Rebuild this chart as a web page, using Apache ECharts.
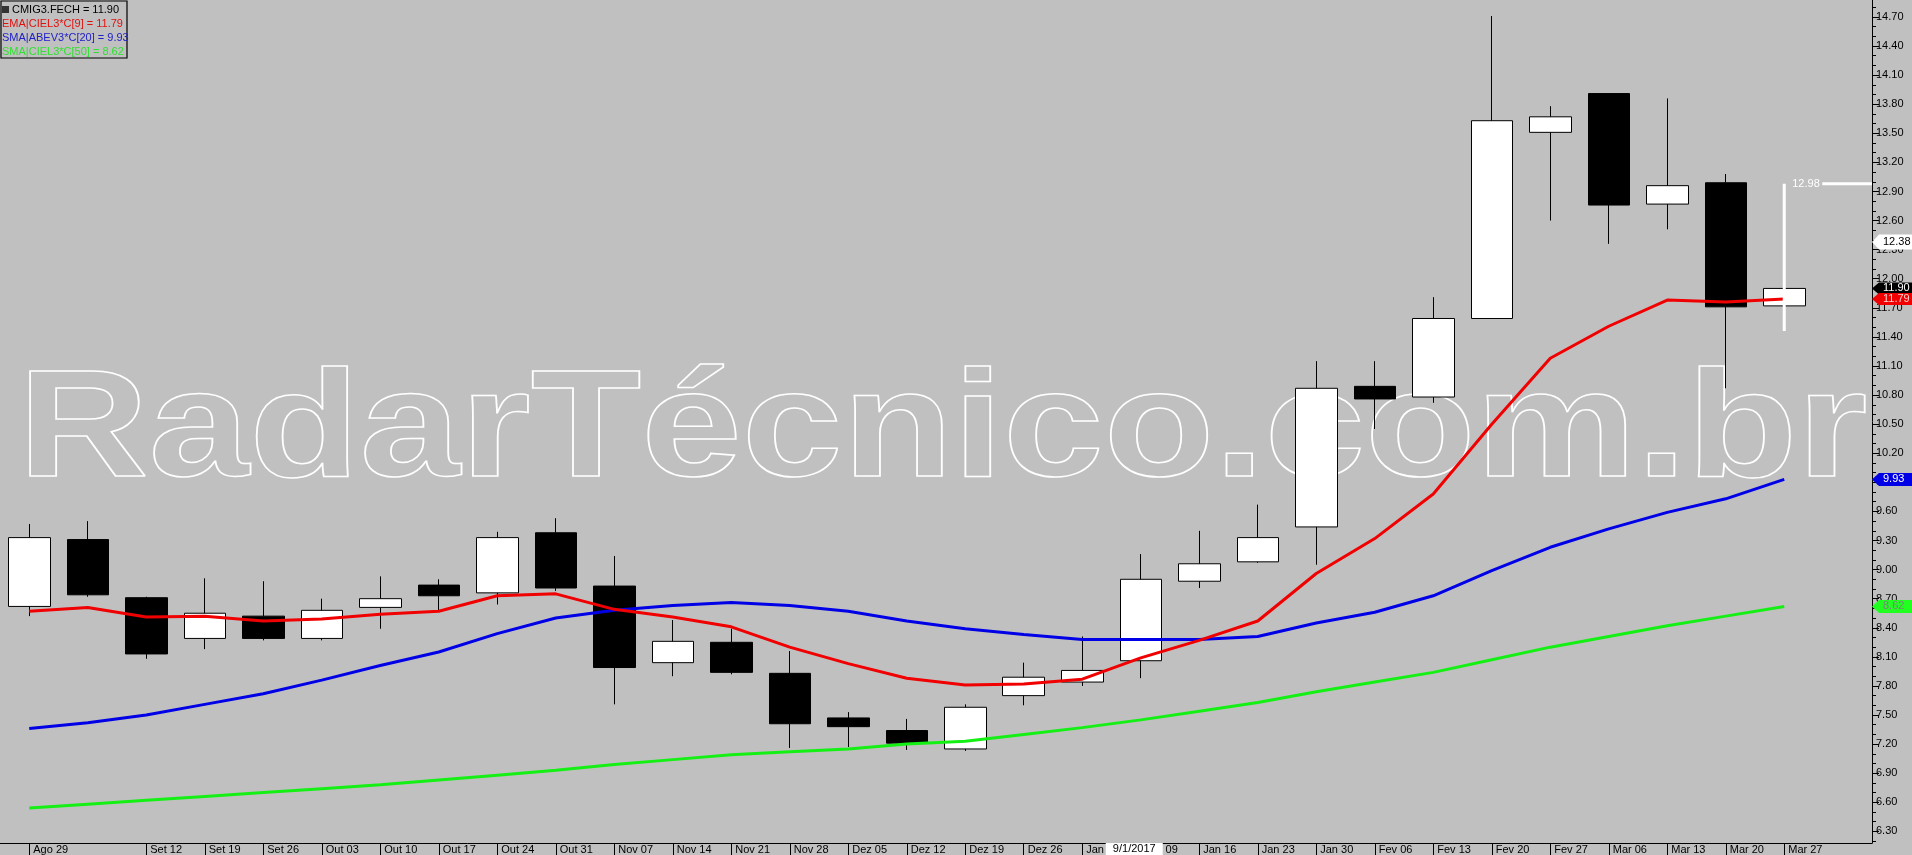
<!DOCTYPE html>
<html>
<head>
<meta charset="utf-8">
<script src="https://cdn.jsdelivr.net/npm/echarts@6/dist/echarts.min.js"></script>
<style>
html,body{margin:0;padding:0;background:#c0c0c0;}
#chart{width:1912px;height:855px;}
</style>
</head>
<body>
<div id="chart"></div>
<script>
// ---------- DATA ----------
const categories = ['Ago 29','Set 05','Set 12','Set 19','Set 26','Out 03','Out 10','Out 17','Out 24','Out 31',
  'Nov 07','Nov 14','Nov 21','Nov 28','Dez 05','Dez 12','Dez 19','Dez 26','Jan 02','Jan 09',
  'Jan 16','Jan 23','Jan 30','Fev 06','Fev 13','Fev 20','Fev 27','Mar 06','Mar 13','Mar 20','Mar 27',''];
const hiddenLabels = ['Set 05',''];

const openV  = [8.62,9.31,8.71,8.29,8.52,8.29,8.61,8.84,8.76,9.38,8.83,8.04,8.25,7.93,7.47,7.34,7.15,7.70,7.84,8.06,8.88,9.08,9.44,10.89,10.78,11.59,13.51,13.91,12.77,12.99,11.72];
const closeV = [9.33,8.74,8.13,8.55,8.29,8.58,8.70,8.73,9.33,8.81,7.99,8.26,7.94,7.41,7.38,7.21,7.58,7.89,7.96,8.90,9.06,9.33,10.87,10.76,11.59,13.63,13.67,12.76,12.96,11.71,11.90];
const lowV   = [8.52,8.72,8.08,8.18,8.27,8.27,8.39,8.58,8.64,8.78,7.61,7.90,7.92,7.16,7.17,7.14,7.13,7.60,7.80,7.88,8.81,9.07,9.05,10.45,10.72,11.59,12.60,12.36,12.51,10.87,11.60];
const highV  = [9.47,9.50,8.72,8.91,8.88,8.70,8.93,8.90,9.39,9.53,9.14,8.48,8.39,8.16,7.53,7.46,7.61,8.04,8.31,9.16,9.40,9.67,11.15,11.15,11.81,14.71,13.78,13.91,13.86,13.08,11.96];

const ema9  = [8.57,8.61,8.51,8.52,8.47,8.49,8.54,8.57,8.73,8.75,8.59,8.51,8.41,8.20,8.03,7.88,7.81,7.82,7.87,8.09,8.27,8.47,8.96,9.32,9.78,10.50,11.18,11.51,11.78,11.76,11.79];
const sma20 = [7.36,7.42,7.50,7.61,7.72,7.86,8.01,8.15,8.34,8.50,8.58,8.63,8.66,8.63,8.57,8.47,8.39,8.33,8.28,8.28,8.28,8.31,8.45,8.56,8.73,8.99,9.23,9.42,9.59,9.73,9.93];
const sma50 = [6.54,6.58,6.62,6.66,6.70,6.74,6.78,6.83,6.88,6.93,6.99,7.04,7.09,7.12,7.15,7.20,7.23,7.30,7.37,7.45,7.54,7.63,7.74,7.84,7.94,8.07,8.20,8.31,8.42,8.52,8.62];

const yMajorTicks = [6.30,6.60,6.90,7.20,7.50,7.80,8.10,8.40,8.70,9.00,9.30,9.60,9.90,10.20,10.50,10.80,11.10,11.40,11.70,12.00,12.30,12.60,12.90,13.20,13.50,13.80,14.10,14.40,14.70];
const yMinorTicks = [6.2,6.3,6.4,6.5,6.6,6.7,6.8,6.9,7.0,7.1,7.2,7.3,7.4,7.5,7.6,7.7,7.8,7.9,8.0,8.1,8.2,8.3,8.4,8.5,8.6,8.7,8.8,8.9,9.0,9.1,9.2,9.3,9.4,9.5,9.6,9.7,9.8,9.9,10.0,10.1,10.2,10.3,10.4,10.5,10.6,10.7,10.8,10.9,11.0,11.1,11.2,11.3,11.4,11.5,11.6,11.7,11.8,11.9,12.0,12.1,12.2,12.3,12.4,12.5,12.6,12.7,12.8,12.9,13.0,13.1,13.2,13.3,13.4,13.5,13.6,13.7,13.8,13.9,14.0,14.1,14.2,14.3,14.4,14.5,14.6,14.7,14.8];
const yMin = 6.18, yMax = 14.875;

// range measurement drawn on last bar
const rangeIndex = 30, rangeTop = 12.98, rangeBottom = 11.46;
// cursor readouts
const cursorPrice = 12.38;
const cursorDateIndex = 19, cursorDateText = '9/1/2017';

const FONT = '"Liberation Sans", Arial, sans-serif';
const C_RED = '#f00000', C_BLUE = '#0000e6', C_GREEN = '#14f014';

const candleData = openV.map((o,i)=>[o, closeV[i], lowV[i], highV[i]]);
const lastIdx = closeV.length - 1;

const chart = echarts.init(document.getElementById('chart'), null, {renderer:'canvas'});
const showIdx = (i, v) => hiddenLabels.indexOf(categories[i]) < 0;

const option = {
  backgroundColor: '#c0c0c0',
  animation: false,
  grid: {left: 0, right: 40, top: 0, bottom: 12},
  xAxis: {
    type: 'category', data: categories, boundaryGap: true,
    axisLine: {show: true, lineStyle: {color: '#000', width: 1}},
    axisTick: {show: true, alignWithLabel: true, interval: showIdx, length: 12, lineStyle: {color: '#000', width: 1}},
    axisLabel: {interval: showIdx, align: 'left', margin: 1, color: '#000', fontSize: 11, fontFamily: FONT, padding: [0,0,0,4]},
    splitLine: {show: false}
  },
  yAxis: [
    {type: 'value', position: 'right', min: yMin, max: yMax, scale: true,
     axisLine: {show: true, onZero: false, lineStyle: {color: '#000', width: 1}},
     axisTick: {show: true, customValues: yMajorTicks, length: 7, lineStyle: {color: '#000'}},
     axisLabel: {show: true, customValues: yMajorTicks, formatter: v => v.toFixed(2), color: '#000', fontSize: 11, fontFamily: FONT, margin: 4},
     splitLine: {show: false}},
    {type: 'value', position: 'right', min: yMin, max: yMax, scale: true,
     axisLine: {show: false, onZero: false},
     axisTick: {show: true, customValues: yMinorTicks, length: 4, lineStyle: {color: '#000'}},
     axisLabel: {show: false},
     splitLine: {show: false}}
  ],
  series: [
    {type: 'candlestick', data: candleData, barWidth: 42,
     itemStyle: {color: '#ffffff', color0: '#000000', borderColor: '#000000', borderColor0: '#000000', borderColorDoji: '#000000', borderWidth: 1},
     emphasis: {disabled: true}, silent: true},
    {type: 'line', data: sma50, symbol: 'none', lineStyle: {color: C_GREEN, width: 3}, silent: true},
    {type: 'line', data: sma20, symbol: 'none', lineStyle: {color: C_BLUE, width: 3}, silent: true},
    {type: 'line', data: ema9, symbol: 'none', lineStyle: {color: C_RED, width: 3}, silent: true},
    {type: 'line', data: [[rangeIndex, rangeTop], [rangeIndex, rangeBottom]], symbol: 'none', z: 5,
     lineStyle: {color: '#ffffff', width: 3}, silent: true}
  ]
};
chart.setOption(option);

// ---------- overlays computed through the axes ----------
const W = chart.getWidth(), H = chart.getHeight();
const axisX = W - 40;
const py = v => chart.convertToPixel({yAxisIndex: 0}, v);
const px = i => chart.convertToPixel({xAxisIndex: 0}, i);
const ZT = 100;

function tag(value, text, bg, fg, h) {
  const y = py(value);
  return [
    {type: 'polygon', z: ZT, silent: true, shape: {points: [[axisX, y], [axisX + 7, y - h/2], [W, y - h/2], [W, y + h/2], [axisX + 7, y + h/2]]},
     style: {fill: bg}},
    {type: 'text', z: ZT + 1, silent: true, x: axisX + 11, y: y, style: {text: text, fill: fg, font: '11px ' + FONT, verticalAlign: 'middle', align: 'left'}}
  ];
}

const graphics = [
  // watermark
  {type: 'text', x: 18, y: 434, scaleX: 1.19, z: 1, silent: true,
   style: {text: 'RadarTécnico.com.br', font: 'bold 152px ' + FONT, fill: 'transparent', stroke: '#ffffff', lineWidth: 1.5, verticalAlign: 'middle', align: 'left'}},
  // legend box
  {type: 'rect', z: ZT, silent: true, shape: {x: 1, y: 1, width: 126, height: 57}, style: {fill: 'transparent', stroke: '#000', lineWidth: 1.2}},
  {type: 'rect', z: ZT, silent: true, shape: {x: 2, y: 6, width: 7, height: 7}, style: {fill: '#333'}},
  {type: 'text', z: ZT, silent: true, x: 12, y: 10, style: {text: 'CMIG3.FECH = ' + closeV[lastIdx].toFixed(2), fill: '#000', font: '11px ' + FONT, verticalAlign: 'middle'}},
  {type: 'text', z: ZT, silent: true, x: 2, y: 24, style: {text: 'EMA|CIEL3*C[9] = ' + ema9[lastIdx].toFixed(2), fill: '#e01010', font: '11px ' + FONT, verticalAlign: 'middle'}},
  {type: 'text', z: ZT, silent: true, x: 2, y: 38, style: {text: 'SMA|ABEV3*C[20] = ' + sma20[lastIdx].toFixed(2), fill: '#2020c8', font: '11px ' + FONT, verticalAlign: 'middle'}},
  {type: 'text', z: ZT, silent: true, x: 2, y: 52, style: {text: 'SMA|CIEL3*C[50] = ' + sma50[lastIdx].toFixed(2), fill: '#30e030', font: '11px ' + FONT, verticalAlign: 'middle'}},
  // range readout
  {type: 'text', z: ZT, silent: true, x: px(rangeIndex) + 8, y: py(rangeTop),
   style: {text: rangeTop.toFixed(2), fill: '#ffffff', font: '11px ' + FONT, verticalAlign: 'middle', align: 'left'}},
  {type: 'line', z: ZT, silent: true, shape: {x1: px(rangeIndex) + 38, y1: py(rangeTop), x2: axisX, y2: py(rangeTop)},
   style: {stroke: '#ffffff', lineWidth: 3}},
  // price tags
  ...tag(cursorPrice, cursorPrice.toFixed(2), '#ffffff', '#000000', 15),
  ...tag(closeV[lastIdx], closeV[lastIdx].toFixed(2), '#000000', '#ffffff', 12),
  ...tag(ema9[lastIdx], ema9[lastIdx].toFixed(2), '#f00000', '#ffd0d0', 12),
  ...tag(sma20[lastIdx], sma20[lastIdx].toFixed(2), '#0000e6', '#ffffff', 13),
  ...tag(sma50[lastIdx], sma50[lastIdx].toFixed(2), '#20ff20', '#808080', 13),
  // date cursor
  {type: 'rect', z: ZT, silent: true, shape: {x: px(cursorDateIndex) - 35, y: H - 12, width: 57, height: 12}, style: {fill: '#ffffff'}},
  {type: 'text', z: ZT + 1, silent: true, x: px(cursorDateIndex) - 6.5, y: H - 6, style: {text: cursorDateText, fill: '#000', font: '11px ' + FONT, verticalAlign: 'middle', align: 'center'}}
];
chart.setOption({graphic: {elements: graphics}});
</script>
</body>
</html>
